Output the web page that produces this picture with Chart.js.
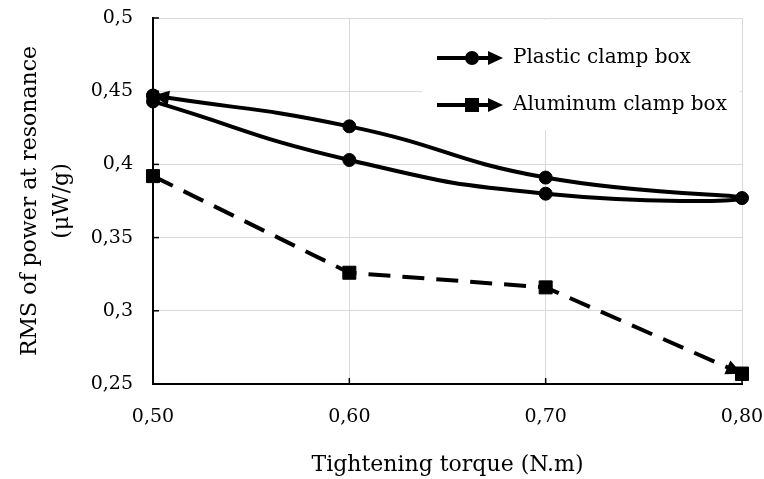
<!DOCTYPE html>
<html>
<head>
<meta charset="utf-8">
<script src="https://cdn.jsdelivr.net/npm/chart.js@4.4.0/dist/chart.umd.min.js"></script>
<style>
  html, body { margin: 0; padding: 0; background: #fff; }
  #wrap { width: 764px; height: 479px; }
</style>
</head>
<body>
<div id="wrap"><canvas id="chart" width="764" height="479"></canvas></div>
<script>
// values
const plasticTorque = [0.50, 0.60, 0.70, 0.80, 0.70, 0.60, 0.50];
const plasticRms = [0.443, 0.403, 0.380, 0.377, 0.391, 0.426, 0.447];
const aluminumTorque = [0.50, 0.60, 0.70, 0.80];
const aluminumRms = [0.392, 0.326, 0.316, 0.257];
const seriesNames = ["Plastic clamp box", "Aluminum clamp box"];
const xTitle = "Tightening torque (N.m)";
const yTitle = ["RMS of power at resonance", "(\u03bcW/g)"];

const FONT = "'DejaVu Serif', serif";

function toPoints(xs, ys) {
  return xs.map((x, i) => ({ x: x, y: ys[i] }));
}

function arrowHead(ctx, tipX, tipY, fromX, fromY, len, half) {
  const a = Math.atan2(tipY - fromY, tipX - fromX);
  const bx = tipX - len * Math.cos(a);
  const by = tipY - len * Math.sin(a);
  ctx.beginPath();
  ctx.moveTo(tipX, tipY);
  ctx.lineTo(bx + half * Math.sin(a), by - half * Math.cos(a));
  ctx.lineTo(bx - half * Math.sin(a), by + half * Math.cos(a));
  ctx.closePath();
  ctx.fill();
}

// inside tick marks + arrow at the end of each series + legend box
const extrasPlugin = {
  id: "extras",
  beforeDatasetsDraw(chart) {
    const ctx = chart.ctx;
    const area = chart.chartArea;
    const xs = chart.scales.x, ys = chart.scales.y;
    ctx.save();
    ctx.strokeStyle = "#000";
    ctx.lineWidth = 1.5;
    xs.ticks.forEach(t => {
      const px = xs.getPixelForValue(t.value);
      ctx.beginPath();
      ctx.moveTo(px, area.bottom);
      ctx.lineTo(px, area.bottom - 6);
      ctx.stroke();
    });
    ys.ticks.forEach(t => {
      const py = ys.getPixelForValue(t.value);
      ctx.beginPath();
      ctx.moveTo(area.left, py);
      ctx.lineTo(area.left + 6, py);
      ctx.stroke();
    });
    ctx.restore();
  },
  afterDatasetsDraw(chart) {
    const ctx = chart.ctx;
    ctx.save();
    ctx.fillStyle = "#000";
    chart.data.datasets.forEach((ds, i) => {
      const pts = chart.getDatasetMeta(i).data;
      const last = pts[pts.length - 1];
      const prev = pts[pts.length - 2];
      let fx = prev.x, fy = prev.y;
      if (last.cp1x !== undefined && (last.cp1x !== last.x || last.cp1y !== last.y)) {
        fx = last.cp1x; fy = last.cp1y;
      }
      arrowHead(ctx, last.x, last.y, fx, fy, 16, 7.5);
    });
    // end markers sit on top of the arrows
    chart.data.datasets.forEach((ds, i) => {
      const pts = chart.getDatasetMeta(i).data;
      pts[pts.length - 1].draw(ctx, chart.chartArea);
    });
    ctx.restore();
  },
  afterDraw(chart) {
    const ctx = chart.ctx;
    const boxL = 422, boxT = 20, boxR = 740, boxB = 130;
    ctx.save();
    ctx.fillStyle = "#fff";
    ctx.fillRect(boxL, boxT, boxR - boxL, boxB - boxT);
    const rows = [58, 105];
    chart.data.datasets.forEach((ds, i) => {
      const y = rows[i];
      ctx.strokeStyle = "#000";
      ctx.fillStyle = "#000";
      ctx.lineWidth = 4;
      ctx.beginPath();
      ctx.moveTo(437, y);
      ctx.lineTo(494, y);
      ctx.stroke();
      arrowHead(ctx, 503, y, 480, y, 15, 7);
      if (ds.pointStyle === "rect") {
        ctx.fillRect(465, y - 7, 14, 14);
      } else {
        ctx.beginPath();
        ctx.arc(472, y, 7, 0, Math.PI * 2);
        ctx.fill();
      }
      ctx.font = "20px " + FONT;
      ctx.textBaseline = "middle";
      ctx.textAlign = "left";
      ctx.fillText(ds.label, 513, y);
    });
    ctx.restore();
  }
};

new Chart(document.getElementById("chart"), {
  type: "scatter",
  data: {
    datasets: [{
      label: seriesNames[0],
      data: toPoints(plasticTorque, plasticRms),
      showLine: true,
      borderColor: "#000",
      backgroundColor: "#000",
      borderWidth: 4,
      tension: 0.5,
      pointStyle: "circle",
      pointRadius: 6.5,
      pointBorderWidth: 1,
      clip: false
    }, {
      label: seriesNames[1],
      data: toPoints(aluminumTorque, aluminumRms),
      showLine: true,
      borderColor: "#000",
      backgroundColor: "#000",
      borderWidth: 4,
      borderDash: [22, 12],
      tension: 0,
      pointStyle: "rect",
      pointRadius: 9.2,
      pointBorderWidth: 1,
      clip: false
    }]
  },
  options: {
    responsive: false,
    animation: false,
    layout: { padding: 0 },
    plugins: {
      legend: { display: false },
      tooltip: { enabled: false }
    },
    scales: {
      x: {
        type: "linear",
        min: 0.5,
        max: 0.8,
        afterFit: s => {
          s.height = 95;
          s.paddingLeft = 0;
          s.paddingRight = 22;
        },
        ticks: {
          stepSize: 0.1,
          padding: 22,
          color: "#000",
          font: { family: FONT, size: 19 },
          callback: v => v.toFixed(2).replace(".", ",")
        },
        grid: { color: "#d9d9d9", lineWidth: 1, drawTicks: false },
        border: { display: true, color: "#000", width: 2 },
        title: {
          display: true,
          text: xTitle,
          color: "#000",
          font: { family: FONT, size: 22 },
          padding: { top: 0, bottom: 1 }
        }
      },
      y: {
        type: "linear",
        min: 0.25,
        max: 0.5,
        afterFit: s => {
          s.width = 153;
          s.paddingTop = 18;
          s.paddingBottom = 0;
        },
        ticks: {
          stepSize: 0.05,
          padding: 20,
          color: "#000",
          font: { family: FONT, size: 19 },
          callback: v => String(+v.toFixed(2)).replace(".", ",")
        },
        grid: { color: "#d9d9d9", lineWidth: 1, drawTicks: false },
        border: { display: true, color: "#000", width: 2 },
        title: {
          display: true,
          text: yTitle,
          color: "#000",
          font: { family: FONT, size: 22, lineHeight: 1.45 },
          padding: { top: 14, bottom: 0 }
        }
      }
    }
  },
  plugins: [extrasPlugin]
});
</script>
</body>
</html>
